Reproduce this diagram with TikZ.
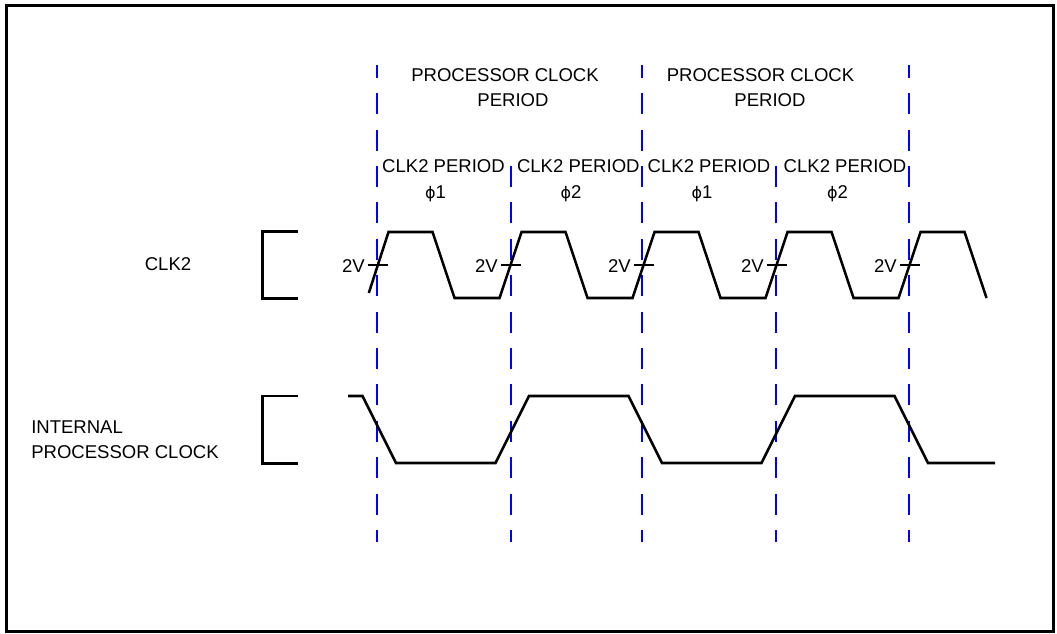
\documentclass[tikz,border=0pt]{standalone}
\usepackage{fontspec}
\setmainfont{Liberation Sans}
\newfontfamily\dvsans{DejaVu Sans}
\begin{document}
\begin{tikzpicture}[x=0.75pt,y=-0.75pt,
  lbl/.style={font=\fontsize{13.9}{16}\selectfont, inner sep=0pt, text=black, anchor=base},
  wave/.style={line width=1.9pt, line join=miter},
  bracket/.style={line width=2pt},
  vgrid/.style={blue, line width=1.5pt, dash pattern=on 15.75pt off 11.55pt, dash phase=6.75pt},
  tick/.style={line width=1.7pt}]
\useasboundingbox (0,0) rectangle (1057,633);
\draw[line width=2.25pt] (6,5) rectangle (1053,631);

% dashed phase boundaries
\foreach \x in {376.7,641.7,908.7} \draw[vgrid] (\x,542) -- (\x,65);
\foreach \x in {510.7,775.7} \draw[vgrid] (\x,542) -- (\x,163);

% headings
\node[lbl] (pc1a) at (505,81.5) {PROCESSOR CLOCK};
\node[lbl] (pc1b) at (513,106.5) {PERIOD};
\node[lbl] (pc2a) at (760.5,81.5) {PROCESSOR CLOCK};
\node[lbl] (pc2b) at (770,106.5) {PERIOD};

\node[lbl] (cp1) at (443.5,172) {CLK2 PERIOD};
\node[lbl] (cp2) at (578.3,172) {CLK2 PERIOD};
\node[lbl] (cp3) at (709,172) {CLK2 PERIOD};
\node[lbl] (cp4) at (845,172) {CLK2 PERIOD};
\node[lbl] (ph1) at (435.5,198) {{\dvsans\fontsize{12}{14}\selectfont ϕ}1};
\node[lbl] (ph2) at (571,198) {{\dvsans\fontsize{12}{14}\selectfont ϕ}2};
\node[lbl] (ph3) at (702,198) {{\dvsans\fontsize{12}{14}\selectfont ϕ}1};
\node[lbl] (ph4) at (837.5,198) {{\dvsans\fontsize{12}{14}\selectfont ϕ}2};

% left labels and brackets
\node[lbl] (clklbl) at (168,270) {CLK2};
\node[lbl, anchor=base west] (intlbl1) at (31,433.5) {INTERNAL};
\node[lbl, anchor=base west] (intlbl2) at (31,458.5) {PROCESSOR CLOCK};
\draw[bracket] (298,231.7) -- (262.5,231.7) -- (262.5,298.3) -- (298,298.3);
\draw[bracket] (298,396) -- (262.5,396) -- (262.5,463.3) -- (298,463.3);

% CLK2 waveform
\draw[wave] (368.8,293) -- (388.5,232) -- (432.5,232) -- (454.5,298)
  -- (499.5,298) -- (521.5,232) -- (565.5,232) -- (587.5,298)
  -- (632.5,298) -- (654.5,232) -- (698.5,232) -- (720.5,298)
  -- (765.5,298) -- (787.5,232) -- (831.5,232) -- (853.5,298)
  -- (898.5,298) -- (920.5,232) -- (964.5,232) -- (986.5,298);

% 2V ticks and labels
\foreach \m [count=\i] in {377.5,510.5,643.5,776.5,909.5} {
  \draw[tick] (\m-10,265) -- (\m+10,265);
  \node[lbl, anchor=base east] (v\i) at (\m-12.5,272.5) {2V};
}

% internal processor clock
\draw[wave] (348,396) -- (362.5,396) -- (396,463) -- (495.5,463) -- (529,396)
  -- (628.5,396) -- (662,463) -- (761.5,463) -- (795,396) -- (894.5,396)
  -- (928,463) -- (995,463);
\end{tikzpicture}
\end{document}
